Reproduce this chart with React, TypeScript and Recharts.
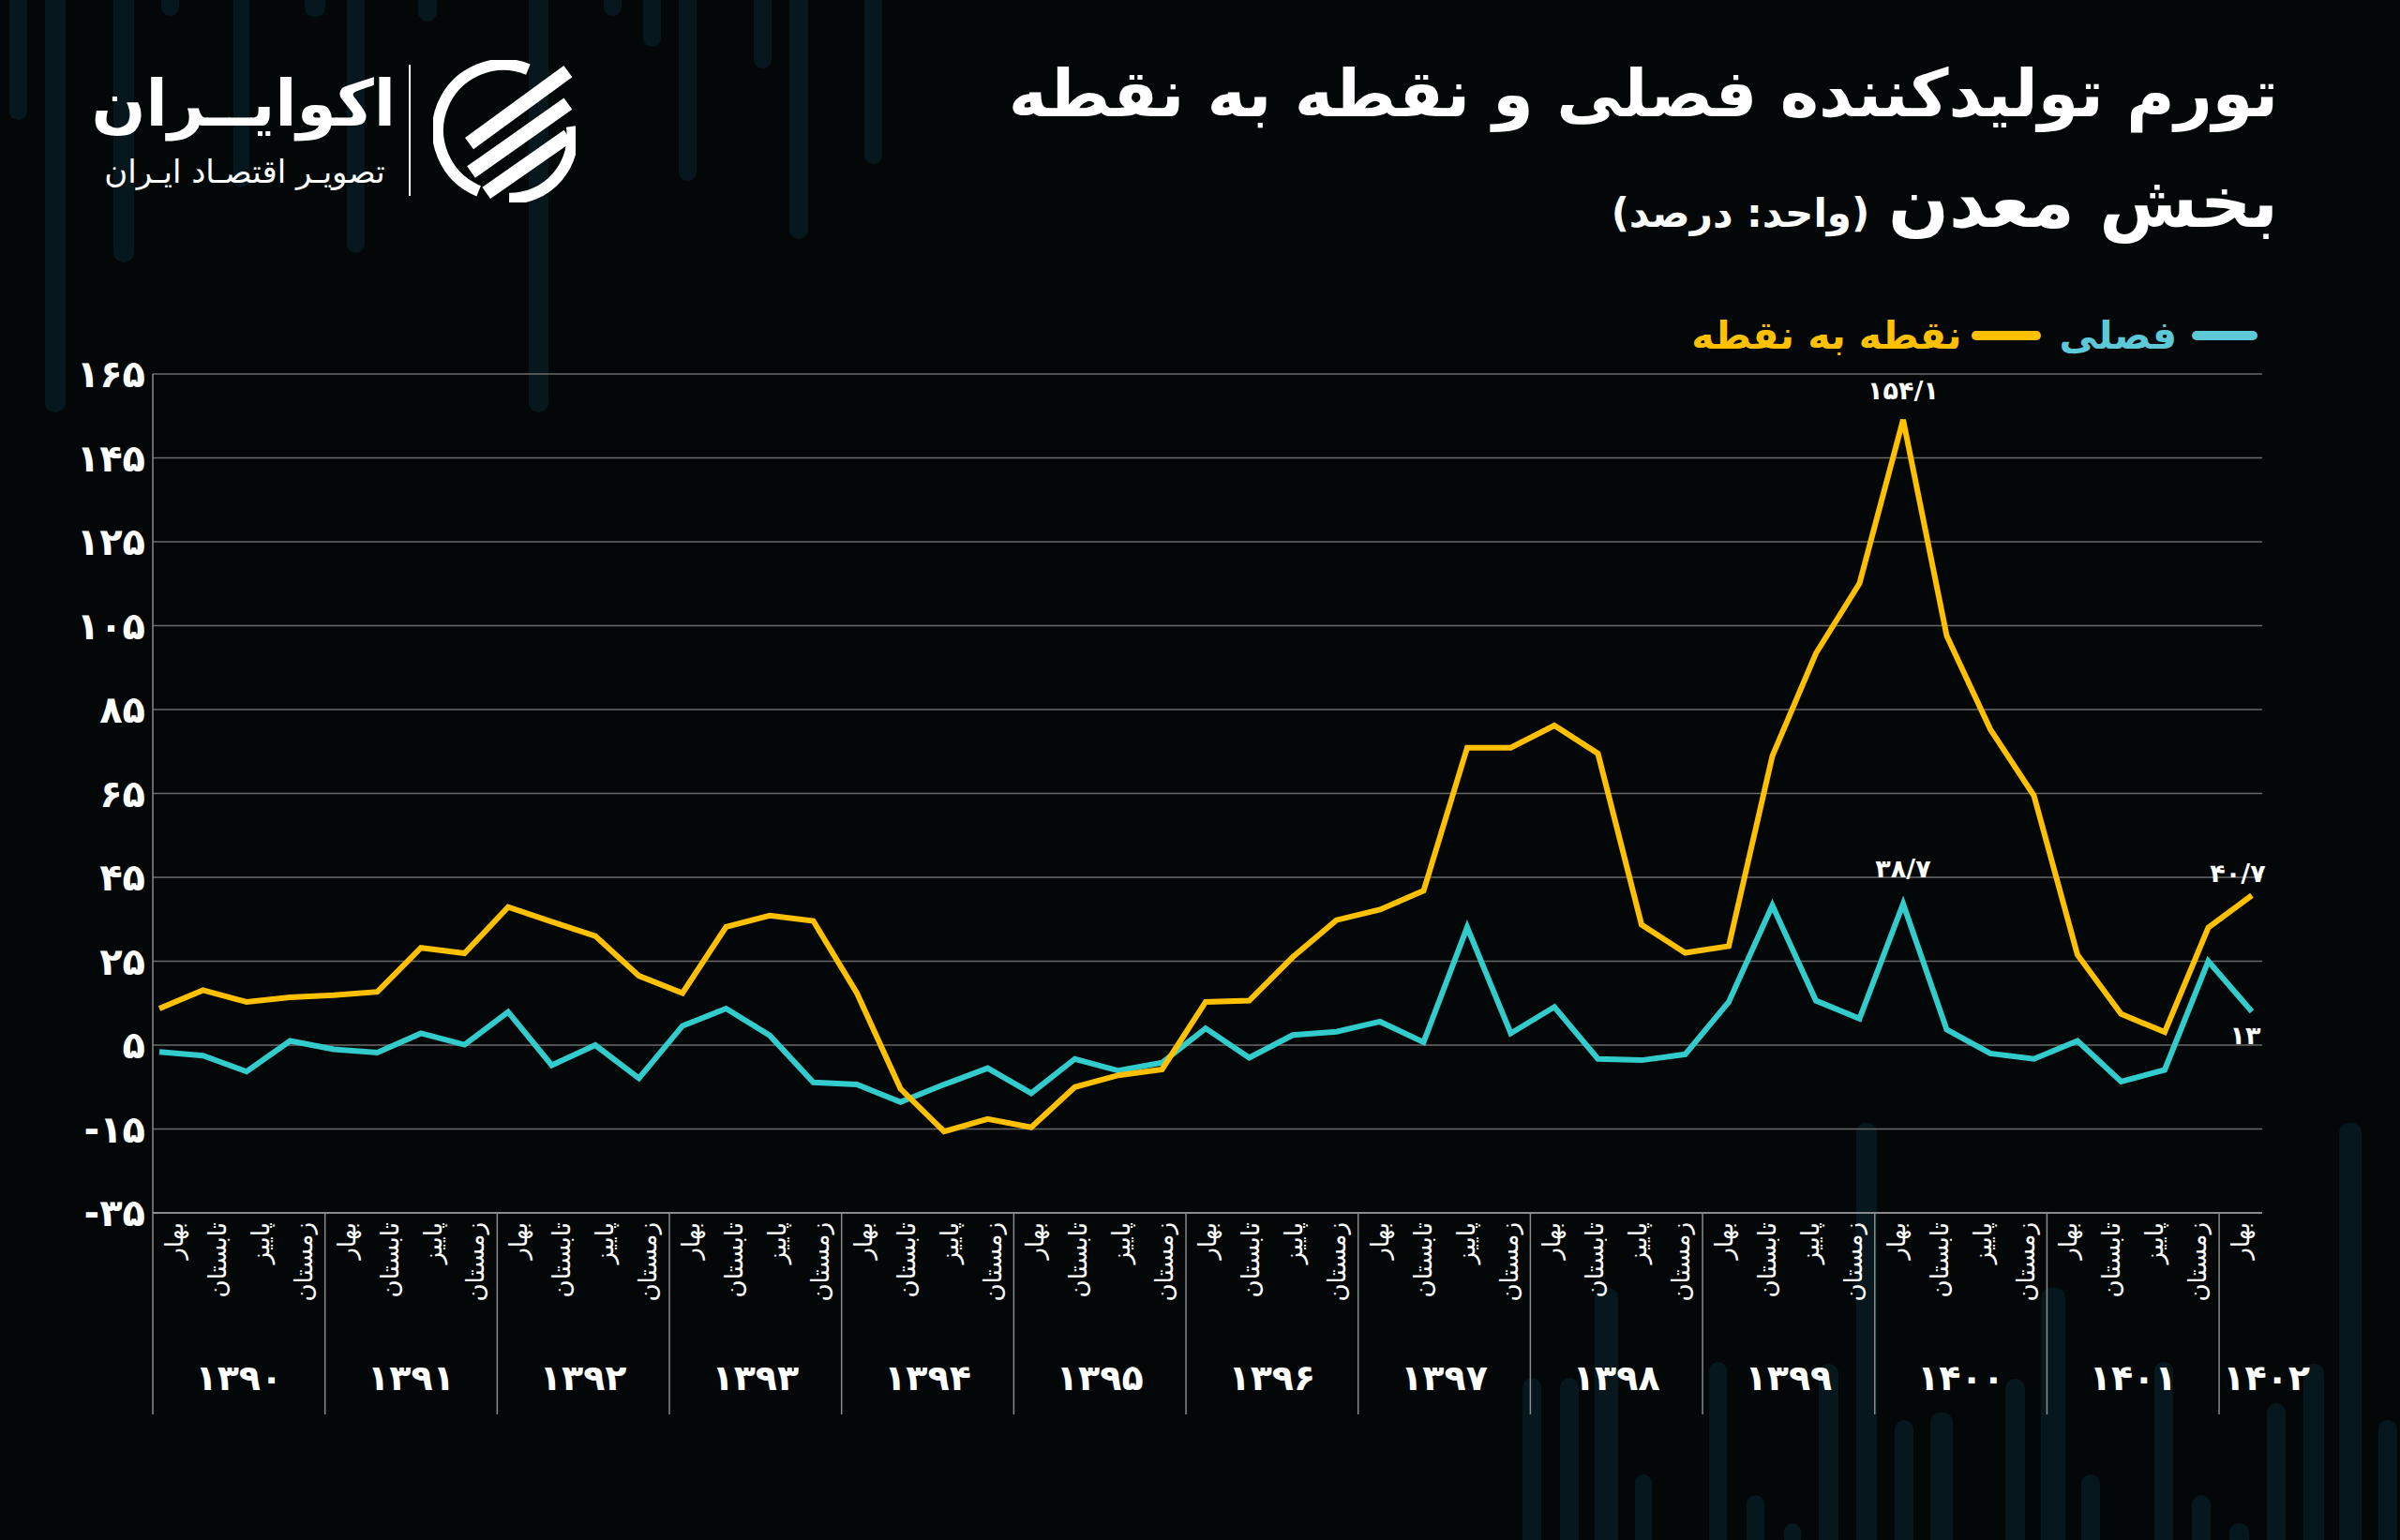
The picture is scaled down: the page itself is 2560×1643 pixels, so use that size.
import React from 'react';
import { LineChart, Line, XAxis, YAxis, CartesianGrid, LabelList } from 'recharts';

// categories
const years = ['۱۳۹۰', '۱۳۹۱', '۱۳۹۲', '۱۳۹۳', '۱۳۹۴', '۱۳۹۵', '۱۳۹۶', '۱۳۹۷', '۱۳۹۸', '۱۳۹۹', '۱۴۰۰', '۱۴۰۱', '۱۴۰۲'];
const seasons = ['بهار', 'تابستان', 'پاییز', 'زمستان'];
const quartersInYear = [4, 4, 4, 4, 4, 4, 4, 4, 4, 4, 4, 4, 1];

// فصلی
const seasonal = [
  3.4, 2.5, -1.3, 6, 4, 3.2, 7.8, 5.1, 12.9, 0.2, 5, -2.9,
  9.6, 13.7, 7.3, -3.9, -4.4, -8.6, -4.4, -0.5, -6.5, 1.7, -1.1, 0.8,
  9, 2, 7.4, 8.2, 10.6, 5.7, 33.1, 7.8, 14.1, 1.7, 1.4, 2.8,
  15.3, 38.3, 15.6, 11.3, 38.7, 8.7, 3, 1.7, 6, -3.7, -0.9, 25,
  13,
];

// نقطه به نقطه
const pointToPoint = [
  13.7, 18.1, 15.3, 16.4, 16.9, 17.7, 28.2, 26.9, 37.9, 34.4, 31, 21.5,
  17.4, 33.2, 35.9, 34.6, 17.4, -5.4, -15.6, -12.6, -14.6, -5, -2.2, -0.8,
  15.3, 15.6, 26, 34.8, 37.3, 41.8, 75.9, 75.9, 81.2, 74.5, 33.7, 27,
  28.6, 73.9, 98.4, 115.1, 154.1, 102.6, 80.3, 64.5, 26.5, 12.4, 8.1, 33,
  40.7,
];

const yTicks = [-35, -15, 5, 25, 45, 65, 85, 105, 125, 145, 165];

// which points carry a value label
const seasonalLabels = [40, 48];
const pointToPointLabels = [40, 48];

const data: any[] = [];
years.forEach((yr, yi) => {
  for (let q = 0; q < quartersInYear[yi]; q++) {
    const i = data.length;
    data.push({ key: yr + '-' + q, year: yi, season: q, seasonal: seasonal[i], p2p: pointToPoint[i] });
  }
});

const FA = '۰۱۲۳۴۵۶۷۸۹';
const toFa = (v: number | string) => String(v).replace('.', '/').replace(/\d/g, (d) => FA[+d]);

const W = 2560;
const H = 1643;
const PLOT_LEFT = 163;
const PLOT_RIGHT = 2413;
const PLOT_TOP = 399;
const PLOT_BOTTOM = 1294;
const Y_AXIS_W = 80;
const X_AXIS_H = 220;
const BAND = (PLOT_RIGHT - PLOT_LEFT) / data.length;

const FONT = '"DejaVu Sans", "Noto Sans", sans-serif';
const BG = '#030707';
const GOLD = '#FFC000';
const TEAL = '#33CCCC';
const LEGEND_TEAL = '#5cc8d8';
const GRID = '#6a6a6a';
const AXIS = '#8a8a8a';

// faint background bars (decoration)
const topBars = [
  [10, 19, 128], [48, 22, 440], [121, 22, 280], [172, 19, 17], [249, 17, 200], [325, 22, 18],
  [370, 19, 270], [446, 20, 23], [564, 21, 440], [644, 19, 17], [686, 19, 50], [724, 19, 193],
  [804, 19, 73], [842, 20, 255], [922, 19, 175],
];
const bottomBars = [
  [1624, 20, 1470], [1664, 20, 1470], [1701, 25, 1374], [1744, 18, 1573], [1823, 19, 1453],
  [1863, 19, 1595], [1903, 18, 1625], [1940, 21, 1455], [1980, 22, 1198], [2021, 20, 1515],
  [2059, 24, 1507], [2139, 21, 1471], [2177, 26, 1374], [2220, 20, 1573], [2298, 20, 1453],
  [2338, 20, 1595], [2378, 21, 1625], [2418, 20, 1497], [2457, 22, 1455], [2495, 24, 1198],
  [2537, 20, 1515],
];

const QuarterTick = (props: any) => {
  const { x, y, index } = props;
  const d = data[index];
  if (!d) return null;
  const sep = x - BAND / 2;
  const n = quartersInYear[d.year];
  const yearX = n === 4 ? sep + 2 * BAND : x + BAND * 0.6;
  return (
    <g>
      <text
        transform={`translate(${x},${y + 10}) rotate(-90)`}
        textAnchor="end"
        dy="0.35em"
        fill="#fff"
        fontSize={26}
        fontFamily={FONT}
      >
        {seasons[d.season]}
      </text>
      {d.season === 0 && (
        <g>
          <line x1={sep} x2={sep} y1={y} y2={y + 215} stroke={AXIS} strokeWidth={1.5} />
          <text
            x={yearX}
            y={y + 176}
            textAnchor="middle"
            dominantBaseline="central"
            fill="#fff"
            fontSize={38}
            fontWeight="bold"
            fontFamily={FONT}
          >
            {years[d.year]}
          </text>
        </g>
      )}
    </g>
  );
};

const valueLabel = (which: number[], offsets: Record<number, [number, number]>) => (props: any) => {
  const { x, y, value, index } = props;
  if (!which.includes(index)) return null;
  const [dx, dy] = offsets[index] || [0, -30];
  return (
    <text
      x={x + dx}
      y={y + dy}
      textAnchor="middle"
      dominantBaseline="central"
      fill="#fff"
      fontSize={27}
      fontWeight="bold"
      fontFamily={FONT}
    >
      {toFa(value)}
    </text>
  );
};

const ChartLegend = () => (
  <div
    style={{
      position: 'absolute', right: 152, top: 326, height: 64, display: 'flex', direction: 'rtl',
      alignItems: 'center', whiteSpace: 'nowrap', fontFamily: FONT, fontWeight: 700, fontSize: 41,
    }}
  >
    <div style={{ width: 70, height: 10, borderRadius: 5, background: LEGEND_TEAL, marginLeft: 16 }} />
    <span style={{ color: LEGEND_TEAL, marginLeft: 20 }}>فصلی</span>
    <div style={{ width: 74, height: 10, borderRadius: 5, background: GOLD, marginLeft: 10 }} />
    <span style={{ color: GOLD }}>نقطه به نقطه</span>
  </div>
);

const Logo = () => (
  <div style={{ position: 'absolute', left: 90, top: 60, width: 540, height: 160 }}>
    <div style={{ position: 'absolute', left: 10, top: 6, width: 322, textAlign: 'center', direction: 'rtl', color: '#fff', fontFamily: FONT, fontWeight: 700, fontSize: 68, lineHeight: '90px', whiteSpace: 'nowrap' }}>
      اکوایــران
    </div>
    <div style={{ position: 'absolute', left: 10, top: 100, width: 322, textAlign: 'center', direction: 'rtl', color: '#fff', fontFamily: FONT, fontSize: 34, lineHeight: '46px', whiteSpace: 'nowrap' }}>
      تصویـر اقتصـاد ایـران
    </div>
    <div style={{ position: 'absolute', left: 346, top: 9, width: 2, height: 140, background: '#fff' }} />
    <svg style={{ position: 'absolute', left: 372, top: 4 }} width={152} height={152} viewBox="0 0 150 150">
      <path d="M 100 10 A 66 66 0 0 0 48 138" fill="none" stroke="#fff" strokeWidth={12} />
      <path d="M 146 70 A 66 66 0 0 1 80 146" fill="none" stroke="#fff" strokeWidth={12} />
      <line x1={38} y1={88} x2={142} y2={12} stroke="#fff" strokeWidth={15} />
      <line x1={40} y1={118} x2={142} y2={46} stroke="#fff" strokeWidth={15} />
      <line x1={56} y1={140} x2={142} y2={80} stroke="#fff" strokeWidth={15} />
    </svg>
  </div>
);

export default function App() {
  return (
    <div style={{ position: 'absolute', left: 0, top: 0, width: W, height: H, background: BG, overflow: 'hidden' }}>
      {topBars.map(([x, w, b], i) => (
        <div key={'t' + i} style={{ position: 'absolute', left: x, top: -20, width: w, height: b + 20, borderRadius: 10, background: '#06181d' }} />
      ))}
      {bottomBars.map(([x, w, t], i) => (
        <div key={'b' + i} style={{ position: 'absolute', left: x, top: t, width: w, height: H - t + 20, borderRadius: 10, background: '#06181d' }} />
      ))}

      <Logo />

      <div style={{ position: 'absolute', right: 130, top: 50, direction: 'rtl', color: '#fff', fontFamily: FONT, fontWeight: 700, fontSize: 70, lineHeight: '100px', whiteSpace: 'nowrap' }}>
        تورم تولیدکننده فصلی و نقطه به نقطه
      </div>
      <div style={{ position: 'absolute', right: 130, top: 166, direction: 'rtl', color: '#fff', fontFamily: FONT, fontWeight: 700, whiteSpace: 'nowrap', display: 'flex', alignItems: 'baseline' }}>
        <span style={{ fontSize: 76, lineHeight: '100px' }}>بخش معدن</span>
        <span style={{ fontSize: 42, marginRight: 20 }}>(واحد: درصد)</span>
      </div>

      <ChartLegend />

      <div style={{ position: 'absolute', left: 0, top: 0 }}>
        <LineChart
          width={W}
          height={H}
          data={data}
          margin={{ top: PLOT_TOP, right: W - PLOT_RIGHT, bottom: H - PLOT_BOTTOM - X_AXIS_H, left: PLOT_LEFT - Y_AXIS_W }}
        >
          <CartesianGrid vertical={false} stroke={GRID} strokeWidth={1.5} />
          <XAxis dataKey="key" scale="point" hide height={0} padding={{ left: 7, right: 11 }} />
          <XAxis
            xAxisId="lbl"
            dataKey="key"
            scale="band"
            interval={0}
            height={X_AXIS_H}
            tickSize={0}
            tickMargin={0}
            tickLine={false}
            axisLine={{ stroke: AXIS, strokeWidth: 2 }}
            tick={<QuarterTick />}
          />
          <YAxis
            domain={[-35, 165]}
            ticks={yTicks}
            interval={0}
            width={Y_AXIS_W}
            tickSize={0}
            tickMargin={8}
            tickLine={false}
            axisLine={{ stroke: AXIS, strokeWidth: 1.5 }}
            tickFormatter={(v) => toFa(v)}
            tick={{ fill: '#fff', fontSize: 40, fontWeight: 700, fontFamily: FONT }}
          />
          <YAxis yAxisId="r" orientation="right" width={0} tick={false} tickLine={false} axisLine={{ stroke: AXIS, strokeWidth: 1.5 }} />
          <Line
            type="linear"
            dataKey="seasonal"
            name="فصلی"
            stroke={TEAL}
            strokeWidth={6}
            dot={false}
            activeDot={false}
            isAnimationActive={false}
          >
            <LabelList dataKey="seasonal" content={valueLabel(seasonalLabels, { 40: [0, -38], 48: [-7, 25] })} />
          </Line>
          <Line
            type="linear"
            dataKey="p2p"
            name="نقطه به نقطه"
            stroke={GOLD}
            strokeWidth={6}
            dot={false}
            activeDot={false}
            isAnimationActive={false}
          >
            <LabelList dataKey="p2p" content={valueLabel(pointToPointLabels, { 40: [0, -31], 48: [-15, -24] })} />
          </Line>
        </LineChart>
      </div>
    </div>
  );
}
